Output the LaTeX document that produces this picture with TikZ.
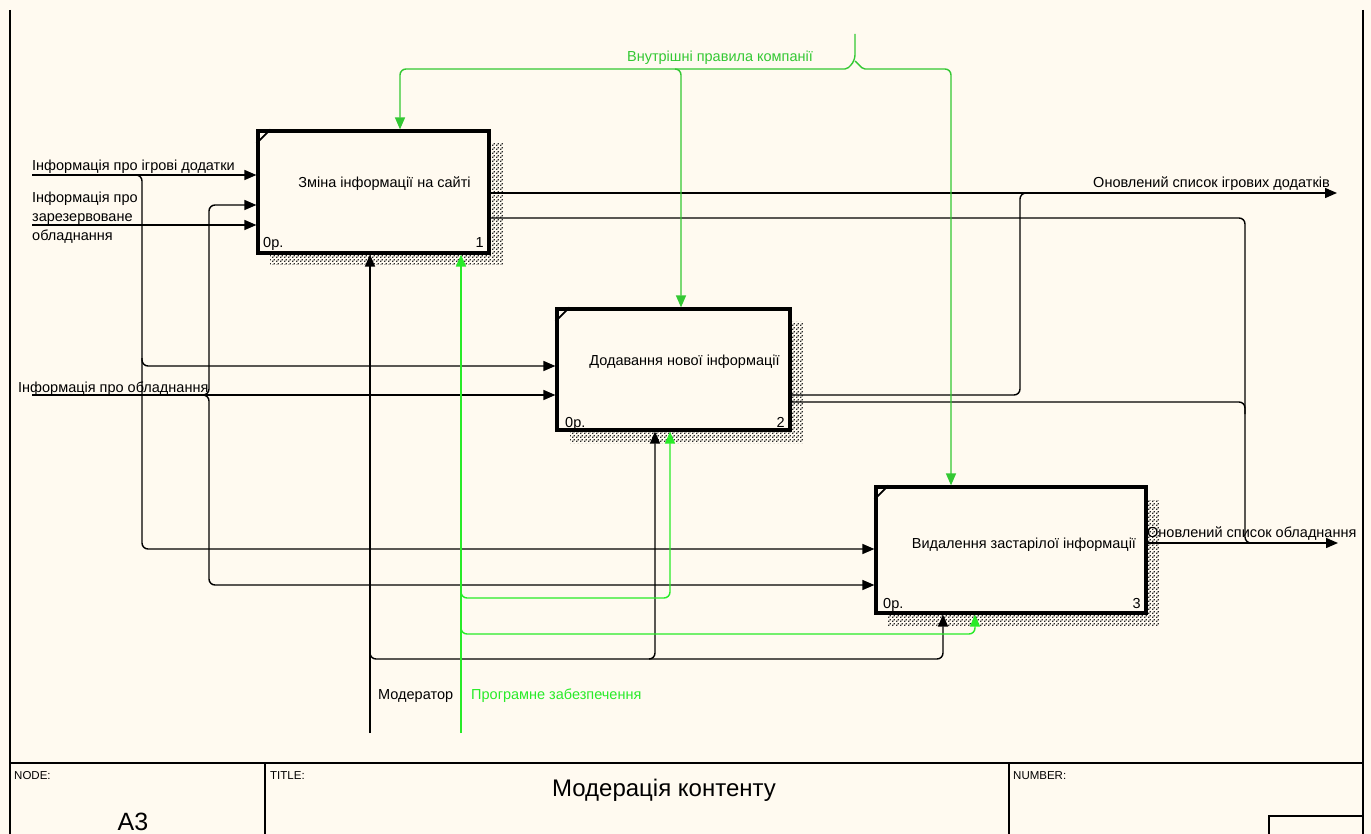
\documentclass[tikz,border=0pt]{standalone}
\usepackage{fontspec}
\setmainfont{Liberation Sans}
\usetikzlibrary{arrows.meta,patterns}
\definecolor{paper}{RGB}{255,250,240}
\definecolor{ctrlgreen}{RGB}{51,200,51}
\definecolor{mechgreen}{RGB}{40,235,40}
% checkered dot pattern used for the box shadows
\pgfdeclarepatternformonly{shadowdots}{\pgfpointorigin}{\pgfqpoint{4pt}{4pt}}{\pgfqpoint{4pt}{4pt}}{
  \pgfpathrectangle{\pgfpointorigin}{\pgfqpoint{1.6pt}{1.6pt}}
  \pgfpathrectangle{\pgfqpoint{2pt}{2pt}}{\pgfqpoint{1.6pt}{1.6pt}}
  \pgfusepath{fill}
}
\tikzset{
  flow/.style={line width=1.4pt, rounded corners=6pt},
  tip/.style={-{Triangle[length=12pt,width=10pt]}},
  actbox/.style={draw, line width=3.2pt, fill=paper, inner sep=0pt},
  shade/.style={pattern=shadowdots, pattern color=black!85},
  lbl/.style={font=\fontsize{14.5}{19}\selectfont, inner sep=0pt},
  small/.style={font=\fontsize{11.5}{13}\selectfont, inner sep=0pt},
}
\begin{document}
\begin{tikzpicture}[x=1pt,y=-1pt]
\useasboundingbox (0,0) rectangle (1371,834);
\fill[paper] (0,0) rectangle (1371,834);

% frame and title block
\draw[line width=1.3pt] (10,10) -- (10,834);
\draw[line width=1.3pt] (1363,10) -- (1363,834);
\draw[line width=2.2pt] (10,763) -- (1363,763);
\draw[line width=1.3pt] (265,763) -- (265,834);
\draw[line width=1.3pt] (1009,763) -- (1009,834);
\draw[line width=1.3pt] (1269,834) -- (1269,816) -- (1363,816);
\node[small, anchor=base west] (nodecap) at (14,779) {NODE:};
\node[small, anchor=base west] (titlecap) at (270,779) {TITLE:};
\node[small, anchor=base west] (numcap) at (1013,779) {NUMBER:};
\node[font=\fontsize{25}{28}\selectfont, inner sep=0pt, anchor=base] (nodeid) at (133,830) {A3};
\node[font=\fontsize{24}{28}\selectfont, inner sep=0pt, anchor=base] (title) at (664,796) {Модерація контенту};

% hatched shadows behind the activity boxes
\fill[shade] (489,143) -- (503,143) -- (503,265) -- (270,265) -- (270,253) -- (489,253) -- cycle;
\fill[shade] (790,322) -- (803,322) -- (803,443) -- (570,443) -- (570,430) -- (790,430) -- cycle;
\fill[shade] (1146,500) -- (1159,500) -- (1159,626) -- (888,626) -- (888,613) -- (1146,613) -- cycle;

% activity boxes
\node[actbox, minimum width=231pt, minimum height=122pt] (b1) at (373.5,192) {};
\node[actbox, minimum width=233pt, minimum height=121pt] (b2) at (673.5,369.5) {};
\node[actbox, minimum width=270pt, minimum height=126pt] (b3) at (1011,550) {};
\foreach \b in {b1,b2,b3}{
  \draw[line width=1.8pt] ([yshift=-14pt]\b.north west) -- ([xshift=14pt]\b.north west);
}
\node[lbl, anchor=base] (t1) at (384.5,188) {Зміна інформації на сайті};
\node[lbl, anchor=base] (t2) at (684.5,366) {Додавання нової інформації};
\node[lbl, anchor=base] (t3) at (1024,548) {Видалення застарілої інформації};
\node[lbl, anchor=base west] (c1) at (263,248) {0р.};
\node[lbl, anchor=base east] (n1) at (484,248) {1};
\node[lbl, anchor=base west] (c2) at (565,427) {0р.};
\node[lbl, anchor=base east] (n2) at (785,427) {2};
\node[lbl, anchor=base west] (c3) at (883,608) {0р.};
\node[lbl, anchor=base east] (n3) at (1141,608) {3};

% inputs
\coordinate (in1) at (32,175);
\coordinate (in2) at (32,225);
\coordinate (in3) at (32,395);
\draw[flow,tip] (in1) -- (in1 -| b1.west);
\draw[flow,tip] (136,175) -- (142,175) -- (142,549) -- (b3.west |- 0,549);
\draw[flow,tip] (142,358) -- (142,366) -- (b2.west |- 0,366);
\draw[flow,tip] (in2) -- (in2 -| b1.west);
\draw[flow,tip] (in3) -- (in3 -| b2.west);
\draw[flow,tip] (203,395) -- (209,395) -- (209,205) -- (b1.west |- 0,205);
\draw[flow,tip] (203,395) -- (209,395) -- (209,585) -- (b3.west |- 0,585);
\node[lbl, anchor=base west] (l1) at (32,171) {Інформація про ігрові додатки};
\node[lbl, anchor=north west, align=left] (l2) at (32,191.5) {Інформація про\\зарезервоване\\обладнання};
\node[lbl, anchor=base west] (l3) at (18,392) {Інформація про обладнання};

% outputs
\coordinate (out1) at (1337,193);
\coordinate (out2) at (1338,543);
\draw[flow,tip] (b1.east |- out1) -- (out1);
\draw[flow] (b1.east |- 0,218) -- (1245,218) -- (1245,543) -- (1251,543);
\draw[flow] (b2.east |- 0,395) -- (1020,395) -- (1020,193) -- (1026,193);
\draw[flow] (b2.east |- 0,402) -- (1245,402) -- (1245,414);
\draw[flow,tip] (b3.east |- out2) -- (out2);
\node[lbl, anchor=base east] (lo1) at (1330,188) {Оновлений список ігрових додатків};
\node[lbl, anchor=base west] (lo2) at (1147,537) {Оновлений список обладнання};

% controls
\coordinate (ctl) at (855,34);
\draw[flow,ctrlgreen,tip] (ctl) -- (855,61) [rounded corners=2pt] -- (847,69) [rounded corners=6pt] -- (400,69) -- (400,0 |- b1.north);
\draw[flow,ctrlgreen,tip] (855,61) [rounded corners=2pt] -- (863,69) [rounded corners=6pt] -- (951,69) -- (951,0 |- b3.north);
\draw[flow,ctrlgreen,tip] (675,69) -- (681,69) -- (681,0 |- b2.north);
\node[lbl, text=ctrlgreen, anchor=base] (lc) at (720,62) {Внутрішні правила компанії};

% mechanisms
\coordinate (mod) at (370,733);
\coordinate (sw) at (461,733);
\draw[flow,tip] (mod) -- (mod |- b1.south);
\draw[flow,tip] (370,653) -- (370,659) -- (943,659) -- (943,0 |- b3.south);
\draw[flow,tip] (649,659) -- (655,659) -- (655,0 |- b2.south);
\draw[flow,mechgreen,tip] (sw) -- (sw |- b1.south);
\draw[flow,mechgreen,tip] (461,592) -- (461,598) -- (670,598) -- (670,0 |- b2.south);
\draw[flow,mechgreen,tip] (461,628) -- (461,634) -- (975,634) -- (975,0 |- b3.south);
\node[lbl, anchor=base west] (lm) at (378,699) {Модератор};
\node[lbl, text=mechgreen, anchor=base west] (ls) at (471,699) {Програмне забезпечення};
\end{tikzpicture}
\end{document}
